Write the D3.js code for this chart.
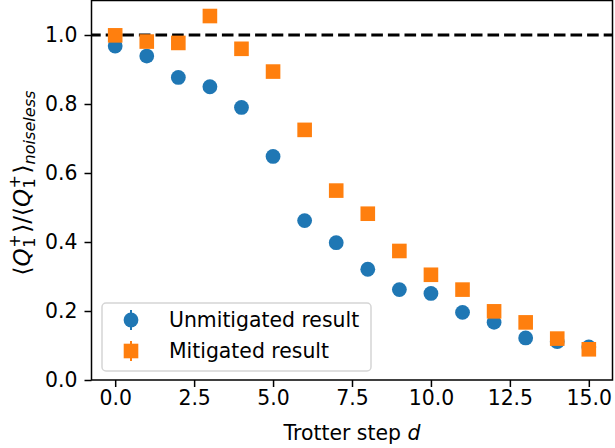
<!DOCTYPE html>
<html>
<head>
<meta charset="utf-8">
<script src="https://cdn.jsdelivr.net/npm/d3@7"></script>
<style>
  body { margin: 0; background: #fff; }
  text { font-family: "DejaVu Sans", sans-serif; }
</style>
</head>
<body>
<svg id="chart"></svg>
<script>
// values
const steps = [0, 1, 2, 3, 4, 5, 6, 7, 8, 9, 10, 11, 12, 13, 14, 15];
const unmitigated = [0.968, 0.939, 0.877, 0.850, 0.790, 0.648, 0.462, 0.398,
                     0.321, 0.262, 0.251, 0.196, 0.167, 0.122, 0.111, 0.096];
const mitigated = [0.999, 0.981, 0.977, 1.055, 0.960, 0.894, 0.725, 0.549,
                   0.482, 0.374, 0.305, 0.262, 0.199, 0.167, 0.120, 0.089];
const xTicks = [0, 2.5, 5, 7.5, 10, 12.5, 15];
const yTicks = [0, 0.2, 0.4, 0.6, 0.8, 1.0];
const legendLabels = ["Unmitigated result", "Mitigated result"];

const width = 615, height = 448;
const margin = {top: 0.5, right: 2.5, bottom: 68, left: 91.5};
const fs = 20.4;
const blue = "#1f77b4", orange = "#ff7f0e";

let svg = d3.select("#chart")
    .attr("width", width)
    .attr("height", height);

let xScale = d3.scaleLinear()
    .domain([-0.75, 15.75])
    .range([margin.left, width - margin.right]);

let yScale = d3.scaleLinear()
    .domain([0, 1.1])
    .range([height - margin.bottom, margin.top]);

// dashed reference line at 1.0
svg.append("line")
    .attr("x1", xScale.range()[0])
    .attr("x2", xScale.range()[1])
    .attr("y1", yScale(1))
    .attr("y2", yScale(1))
    .attr("stroke", "#000")
    .attr("stroke-width", 3)
    .attr("stroke-dasharray", "11.6,5")
    .attr("stroke-dashoffset", 2.4);

// unmitigated: circles
svg.append("g").selectAll("circle")
    .data(steps)
    .join("circle")
    .attr("cx", (d, i) => xScale(d))
    .attr("cy", (d, i) => yScale(unmitigated[i]))
    .attr("r", 7.4)
    .attr("fill", blue);

// mitigated: squares
const sq = 14.6;
svg.append("g").selectAll("rect")
    .data(steps)
    .join("rect")
    .attr("x", (d, i) => xScale(d) - sq / 2)
    .attr("y", (d, i) => yScale(mitigated[i]) - sq / 2)
    .attr("width", sq)
    .attr("height", sq)
    .attr("fill", orange);

// axes
let xAxis = svg.append("g")
    .attr("transform", `translate(0, ${height - margin.bottom})`)
    .call(d3.axisBottom(xScale).tickValues(xTicks).tickFormat(d3.format(".1f"))
        .tickSizeOuter(0).tickSize(7).tickPadding(4));

let yAxis = svg.append("g")
    .attr("transform", `translate(${margin.left}, 0)`)
    .call(d3.axisLeft(yScale).tickValues(yTicks).tickFormat(d3.format(".1f"))
        .tickSizeOuter(0).tickSize(7).tickPadding(7));

[xAxis, yAxis].forEach(ax => {
    ax.selectAll("text").attr("font-size", fs).attr("fill", "#000")
        .attr("font-family", "DejaVu Sans");
    ax.selectAll("line").attr("stroke", "#000").attr("stroke-width", 1.5);
    ax.select(".domain").remove();
});

// frame
svg.append("rect")
    .attr("x", margin.left)
    .attr("y", margin.top)
    .attr("width", width - margin.left - margin.right)
    .attr("height", height - margin.top - margin.bottom)
    .attr("fill", "none")
    .attr("stroke", "#000")
    .attr("stroke-width", 1.5);

// x label
let xlab = svg.append("text")
    .attr("x", (margin.left + width - margin.right) / 2)
    .attr("y", 440)
    .attr("text-anchor", "middle")
    .attr("font-size", fs);
xlab.append("tspan").text("Trotter step ");
xlab.append("tspan").attr("font-style", "italic").text("d");

// y label, laid out piece by piece (mathtext style)
const lfs = 23;
const small = lfs * 0.7;
let ylab = svg.append("g")
    .attr("transform", `translate(30, 183) rotate(-90)`);
let inner = ylab.append("g");
let cx = 0;
function piece(txt, opts) {
    opts = opts || {};
    let t = inner.append("text")
        .attr("x", cx)
        .attr("y", opts.dy || 0)
        .attr("font-size", opts.size || lfs)
        .attr("font-style", opts.italic ? "italic" : "normal")
        .text(txt);
    return t.node().getComputedTextLength();
}
function qTerm() {
    cx += piece("\u27e8");
    cx += piece("Q", {italic: true}) + 0.5;
    let w1 = piece("+", {size: small, dy: -10});
    let w2 = piece("1", {size: small, dy: 5});
    cx += Math.max(w1, w2) + 1.5;
    cx += piece("\u27e9");
}
qTerm();
cx += piece("/");
qTerm();
cx += piece("noiseless", {size: small, italic: true, dy: 5});
inner.attr("transform", `translate(${-cx / 2}, 0)`);

// legend
let legend = svg.append("g");
legend.append("rect")
    .attr("x", 102)
    .attr("y", 303)
    .attr("width", 269)
    .attr("height", 68)
    .attr("rx", 4)
    .attr("fill", "#fff")
    .attr("fill-opacity", 0.8)
    .attr("stroke", "#d5d5d5")
    .attr("stroke-width", 1.5);

const legY = [320, 351];
legend.append("line")
    .attr("x1", 131).attr("x2", 131)
    .attr("y1", legY[0] - 10).attr("y2", legY[0] + 10)
    .attr("stroke", blue).attr("stroke-width", 2);
legend.append("circle")
    .attr("cx", 131).attr("cy", legY[0]).attr("r", 7.4).attr("fill", blue);
legend.append("line")
    .attr("x1", 131).attr("x2", 131)
    .attr("y1", legY[1] - 10).attr("y2", legY[1] + 10)
    .attr("stroke", orange).attr("stroke-width", 2);
legend.append("rect")
    .attr("x", 131 - sq / 2).attr("y", legY[1] - sq / 2)
    .attr("width", sq).attr("height", sq).attr("fill", orange);

legend.selectAll("text.lab")
    .data(legendLabels)
    .join("text")
    .attr("class", "lab")
    .attr("x", 169)
    .attr("y", (d, i) => legY[i] + 7)
    .attr("font-size", fs)
    .text(d => d);
</script>
</body>
</html>
